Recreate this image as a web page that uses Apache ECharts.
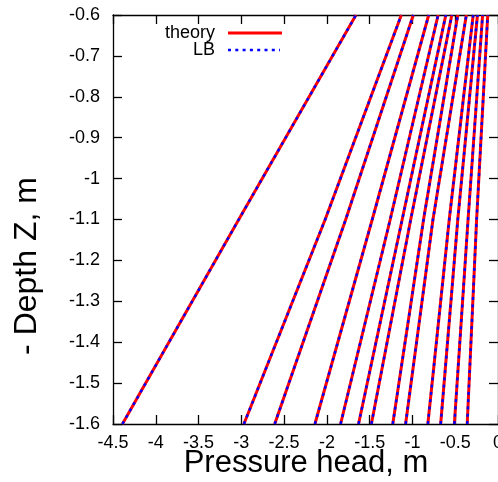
<!DOCTYPE html>
<html>
<head>
<meta charset="utf-8">
<script src="https://cdn.jsdelivr.net/npm/echarts@6/dist/echarts.min.js"></script>
<style>
html,body{margin:0;padding:0;background:#fff;}
#chart{width:498px;height:482px;}
</style>
</head>
<body>
<div id="chart"></div>
<script>
// Depth levels (bottom, middle, top) of each profile, m
const depths = [-1.6, -1.1, -0.6];
// Pressure head of each profile at those depths, m
const profile01 = [-4.39, -3.03, -1.66];
const profile02 = [-2.97, -2.02, -1.13];
const profile03 = [-2.61, -1.78, -0.99];
const profile04 = [-2.14, -1.47, -0.81];
const profile05 = [-1.84, -1.26, -0.70];
const profile06 = [-1.63, -1.12, -0.61];
const profile07 = [-1.48, -1.02, -0.54];
const profile08 = [-1.23, -0.87, -0.47];
const profile09 = [-1.08, -0.76, -0.37];
const profile10 = [-0.82, -0.57, -0.29];
const profile11 = [-0.67, -0.47, -0.24];
const profile12 = [-0.51, -0.35, -0.18];
const profile13 = [-0.36, -0.25, -0.12];
const profiles = [profile01, profile02, profile03, profile04, profile05, profile06, profile07,
  profile08, profile09, profile10, profile11, profile12, profile13];
const xTicks = {min: -4.5, max: 0, interval: 0.5};
const yTicks = {min: -1.6, max: -0.6, interval: 0.1};
const seriesNames = ['theory', 'LB'];
const xTitle = 'Pressure head, m';
const yTitle = '- Depth Z, m';

const font = 'Liberation Sans, Arial, sans-serif';
const RED = '#ff0000', BLUE = '#0000ff';
const DOT = [3, 4.3];
const series = [];
profiles.forEach(p => {
  const data = p.map((h, i) => [h, depths[i]]);
  series.push({
    name: seriesNames[0], type: 'line', data: data, symbol: 'none', silent: true,
    lineStyle: {color: RED, width: 3}, z: 2
  });
  series.push({
    name: seriesNames[1], type: 'line', data: data, symbol: 'none', silent: true,
    lineStyle: {color: BLUE, width: 2.5, type: DOT, cap: 'butt'}, z: 3
  });
});

const axisCommon = {
  type: 'value', splitLine: {show: false},
  axisLine: {show: true, onZero: false, lineStyle: {color: '#000', width: 1.3}},
  axisTick: {show: true, inside: true, length: 9, lineStyle: {color: '#000', width: 1.3}},
  axisLabel: {color: '#000', fontFamily: font, fontSize: 18},
};

const legendText = (txt, y) => ({
  type: 'text', x: 215, y: y, z: 10,
  style: {text: txt, fill: '#000', font: '18px ' + font, align: 'right', verticalAlign: 'middle'}
});

const chart = echarts.init(document.getElementById('chart'), null, {renderer: 'canvas'});
chart.setOption({
  animation: false,
  backgroundColor: '#fff',
  grid: {left: 113, top: 15, width: 385, height: 409, containLabel: false, outerBoundsMode: 'none'},
  xAxis: [
    Object.assign({}, axisCommon, {
      min: xTicks.min, max: xTicks.max, interval: xTicks.interval, position: 'bottom',
      axisLabel: Object.assign({}, axisCommon.axisLabel, {margin: 10})
    }),
    Object.assign({}, axisCommon, {
      min: xTicks.min, max: xTicks.max, interval: xTicks.interval, position: 'top',
      axisLabel: {show: false}
    })
  ],
  yAxis: [
    Object.assign({}, axisCommon, {
      min: yTicks.min, max: yTicks.max, interval: yTicks.interval, position: 'left',
      axisLabel: Object.assign({}, axisCommon.axisLabel, {margin: 13})
    }),
    Object.assign({}, axisCommon, {
      min: yTicks.min, max: yTicks.max, interval: yTicks.interval, position: 'right',
      axisLabel: {show: false}
    })
  ],
  graphic: [
    {
      type: 'text', x: 27, y: 266, rotation: Math.PI / 2,
      style: {text: yTitle, fill: '#000', font: '32px ' + font, align: 'center', verticalAlign: 'middle'}
    },
    {
      type: 'text', x: 306, y: 463,
      style: {text: xTitle, fill: '#000', font: '31px ' + font, align: 'center', verticalAlign: 'middle'}
    },
    legendText(seriesNames[0], 33),
    {type: 'line', z: 10, shape: {x1: 228, y1: 33, x2: 282, y2: 33}, style: {stroke: RED, lineWidth: 3}},
    legendText(seriesNames[1], 50),
    {type: 'line', z: 10, shape: {x1: 228, y1: 50, x2: 280, y2: 50},
     style: {stroke: BLUE, lineWidth: 2.5, lineDash: DOT, lineCap: 'butt'}}
  ],
  series: series
});
</script>
</body>
</html>
